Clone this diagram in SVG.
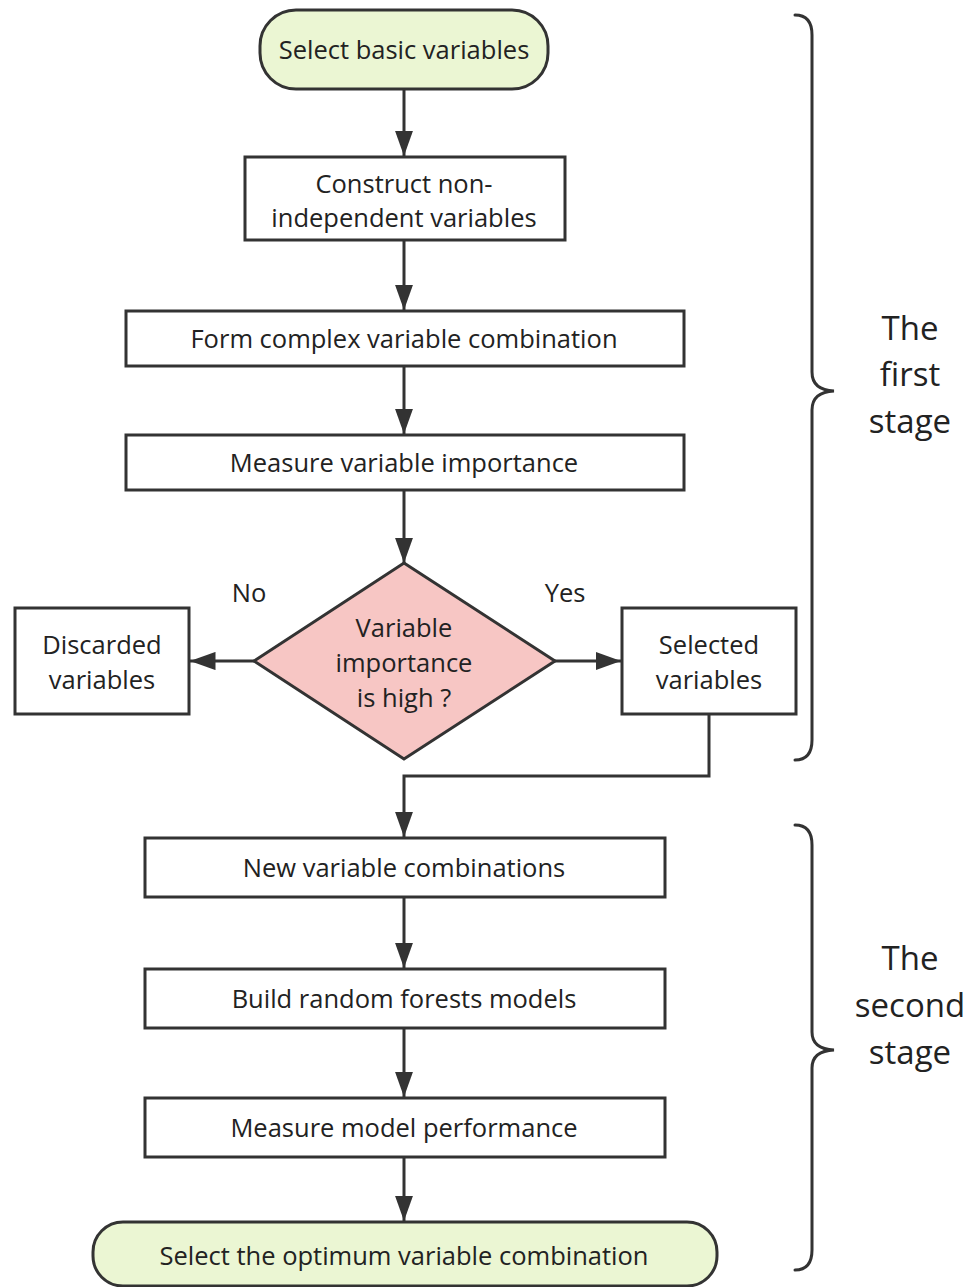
<svg xmlns="http://www.w3.org/2000/svg" width="971" height="1287" viewBox="0 0 971 1287">
<style>
.box{fill:#fff;stroke:#333;stroke-width:3}
.term{fill:#ebf6d3;stroke:#333;stroke-width:3}
.dia{fill:#f7c6c4;stroke:#333;stroke-width:3}
.t{font-family:"Open Sans","Noto Sans",sans-serif;font-size:25.5px;fill:#222;text-anchor:middle}
.st{font-family:"Open Sans","Noto Sans",sans-serif;font-size:33px;fill:#222;text-anchor:middle}
.ln{fill:none;stroke:#333;stroke-width:3}
.br{fill:none;stroke:#333;stroke-width:3;stroke-linecap:round}
</style>
<defs>
<marker id="ah" viewBox="0 0 14 10" refX="14" refY="5" markerWidth="8.5" markerHeight="6.2" markerUnits="strokeWidth" orient="auto">
<path d="M0,0 L14,5 L0,10 Z" fill="#333"/>
</marker>
</defs>
<g id="connectors">
<line class="ln" x1="404" y1="89" x2="404" y2="156" marker-end="url(#ah)"/>
<line class="ln" x1="404" y1="240" x2="404" y2="310" marker-end="url(#ah)"/>
<line class="ln" x1="404" y1="366" x2="404" y2="434" marker-end="url(#ah)"/>
<line class="ln" x1="404" y1="490" x2="404" y2="563" marker-end="url(#ah)"/>
<line class="ln" x1="254" y1="661" x2="190" y2="661" marker-end="url(#ah)"/>
<line class="ln" x1="555" y1="661" x2="621" y2="661" marker-end="url(#ah)"/>
<polyline class="ln" points="709,714 709,776 404,776 404,837" marker-end="url(#ah)"/>
<line class="ln" x1="404" y1="897" x2="404" y2="968" marker-end="url(#ah)"/>
<line class="ln" x1="404" y1="1028" x2="404" y2="1097" marker-end="url(#ah)"/>
<line class="ln" x1="404" y1="1157" x2="404" y2="1221" marker-end="url(#ah)"/>
</g>
<g id="start">
<rect class="term" x="260" y="10" width="288" height="79" rx="36" ry="36"/>
<text class="t" x="404" y="59">Select basic variables</text>
</g>
<g id="construct">
<rect class="box" x="245" y="157" width="320" height="83"/>
<text class="t" x="404" y="193">Construct non-</text>
<text class="t" x="404" y="227">independent variables</text>
</g>
<g id="form">
<rect class="box" x="126" y="311" width="558" height="55"/>
<text class="t" x="404" y="348">Form complex variable combination</text>
</g>
<g id="measure-importance">
<rect class="box" x="126" y="435" width="558" height="55"/>
<text class="t" x="404" y="472">Measure variable importance</text>
</g>
<g id="decision">
<polygon class="dia" points="404,563 555,661 404,759 254,661"/>
<text class="t" x="404" y="637">Variable</text>
<text class="t" x="404" y="672">importance</text>
<text class="t" x="404" y="707">is high ?</text>
</g>
<g id="labels">
<text class="t" x="249" y="602">No</text>
<text class="t" x="565" y="602">Yes</text>
</g>
<g id="discarded">
<rect class="box" x="15" y="608" width="174" height="106"/>
<text class="t" x="102" y="654">Discarded</text>
<text class="t" x="102" y="689">variables</text>
</g>
<g id="selected">
<rect class="box" x="622" y="608" width="174" height="106"/>
<text class="t" x="709" y="654">Selected</text>
<text class="t" x="709" y="689">variables</text>
</g>
<g id="new-combos">
<rect class="box" x="145" y="838" width="520" height="59"/>
<text class="t" x="404" y="877">New variable combinations</text>
</g>
<g id="build">
<rect class="box" x="145" y="969" width="520" height="59"/>
<text class="t" x="404" y="1008">Build random forests models</text>
</g>
<g id="measure-performance">
<rect class="box" x="145" y="1098" width="520" height="59"/>
<text class="t" x="404" y="1137">Measure model performance</text>
</g>
<g id="end">
<rect class="term" x="93" y="1222" width="624" height="64" rx="30" ry="30"/>
<text class="t" x="404" y="1265">Select the optimum variable combination</text>
</g>
<g id="stage1">
<path class="br" d="M795,15 Q812,15 812,35 L812,372 Q812,390 834,391 Q812,392 812,410 L812,740 Q812,760 795,760"/>
<text class="st" x="910" y="340">The</text>
<text class="st" x="910" y="386">first</text>
<text class="st" x="910" y="433">stage</text>
</g>
<g id="stage2">
<path class="br" d="M795,825 Q812,825 812,845 L812,1032 Q812,1049 834,1050 Q812,1051 812,1068 L812,1250 Q812,1270 795,1270"/>
<text class="st" x="910" y="970">The</text>
<text class="st" x="910" y="1017">second</text>
<text class="st" x="910" y="1064">stage</text>
</g>
</svg>
